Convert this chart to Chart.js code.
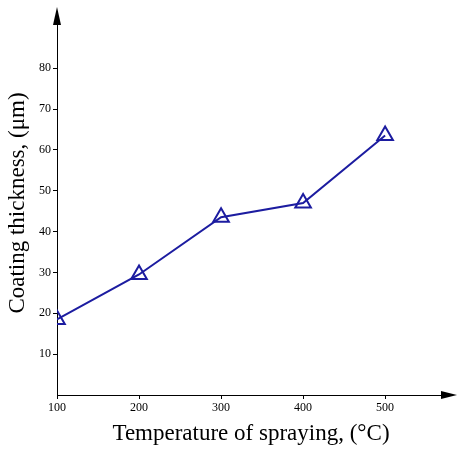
<!DOCTYPE html>
<html>
<head>
<meta charset="utf-8">
<script src="https://cdn.jsdelivr.net/npm/chart.js@4"></script>
<style>
  body { margin: 0; background: #fff; }
  #wrap { width: 474px; height: 452px; }
</style>
</head>
<body>
<div id="wrap"><canvas id="myChart"></canvas></div>
<script>
const temperatures = [100, 200, 300, 400, 500];
const thickness = [18.5, 29.5, 43.5, 47, 63.5];
const xTicks = [100, 200, 300, 400, 500];
const yTicks = [10, 20, 30, 40, 50, 60, 70, 80];

// arrowheads at the ends of both axes
const axisArrows = {
  id: 'axisArrows',
  afterDraw(chart) {
    const { ctx, chartArea: a } = chart;
    ctx.save();
    ctx.fillStyle = '#000';
    ctx.beginPath();
    ctx.moveTo(a.right + 12, a.bottom);
    ctx.lineTo(a.right - 4, a.bottom - 4);
    ctx.lineTo(a.right - 4, a.bottom + 4);
    ctx.fill();
    ctx.beginPath();
    ctx.moveTo(a.left, a.top - 4);
    ctx.lineTo(a.left - 4, a.top + 14);
    ctx.lineTo(a.left + 4, a.top + 14);
    ctx.fill();
    ctx.restore();
  }
};

new Chart(document.getElementById('myChart'), {
  type: 'line',
  data: {
    datasets: [{
      data: temperatures.map((t, i) => ({ x: t, y: thickness[i] })),
      borderColor: '#1c1ca0',
      backgroundColor: 'rgba(0,0,0,0)',
      borderWidth: 2,
      pointStyle: 'triangle',
      pointRadius: 9,
      pointBorderWidth: 2,
      tension: 0
    }]
  },
  options: {
    responsive: true,
    maintainAspectRatio: false,
    animation: false,
    layout: { padding: { top: 0, right: 29 } },
    plugins: { legend: { display: false }, tooltip: { enabled: false } },
    scales: {
      x: {
        type: 'linear',
        min: 100,
        max: 573,
        afterBuildTicks: s => { s.ticks = xTicks.map(v => ({ value: v })); },
        afterFit: s => { s.height = 57; },
        border: { color: '#000', width: 1 },
        grid: { drawOnChartArea: false, tickLength: 4, color: '#000' },
        ticks: { color: '#000', font: { family: 'Liberation Serif', size: 12 }, padding: 2 },
        title: {
          display: true,
          text: 'Temperature of spraying, (°C)',
          color: '#000',
          font: { family: 'Liberation Serif', size: 23 },
          padding: { top: 2 }
        }
      },
      y: {
        min: 0,
        max: 94,
        afterBuildTicks: s => { s.ticks = yTicks.map(v => ({ value: v })); },
        afterFit: s => { s.width = 57; },
        border: { color: '#000', width: 1 },
        grid: { drawOnChartArea: false, tickLength: 4, color: '#000' },
        ticks: { color: '#000', font: { family: 'Liberation Serif', size: 12 }, padding: 2 },
        title: {
          display: true,
          text: 'Coating thickness, (μm)',
          color: '#000',
          font: { family: 'Liberation Serif', size: 23 },
          padding: { bottom: 4 }
        }
      }
    }
  },
  plugins: [axisArrows]
});
</script>
</body>
</html>
